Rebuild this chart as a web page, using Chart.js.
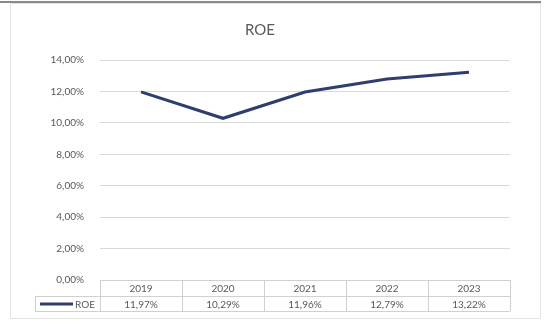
<!DOCTYPE html>
<html>
<head>
<meta charset="utf-8">
<script src="https://cdn.jsdelivr.net/npm/chart.js@4/dist/chart.umd.min.js"></script>
<style>
html,body{margin:0;padding:0;background:#fff;}
#wrap{width:546px;height:329px;position:relative;}
</style>
</head>
<body>
<div id="wrap"><canvas id="c" width="546" height="329"></canvas></div>
<script>
const categories = ['2019', '2020', '2021', '2022', '2023'];
const roeValues = [11.97, 10.29, 11.96, 12.79, 13.22];
const seriesName = 'ROE';
const yTicks = [0, 2, 4, 6, 8, 10, 12, 14];

const FONT = 'Lato, "Open Sans", sans-serif';
const TEXT = '#595959';
const GRID = '#d9d9d9';
const LINE = '#2f3e6c';

function fmt(v) { return v.toFixed(2).replace('.', ',') + '%'; }

const framePlugin = {
  id: 'frame',
  beforeDraw(chart) {
    const ctx = chart.ctx;
    ctx.save();
    ctx.fillStyle = '#fff';
    ctx.fillRect(0, 0, chart.width, chart.height);
    ctx.strokeStyle = '#e3e3e3';
    ctx.lineWidth = 1;
    ctx.strokeRect(10.5, 3.5, 530, 315);
    ctx.strokeStyle = '#8a8a8a';
    ctx.lineWidth = 2;
    ctx.beginPath(); ctx.moveTo(0, 2); ctx.lineTo(541, 2); ctx.stroke();
    ctx.restore();
  }
};

const tablePlugin = {
  id: 'dataTable',
  afterDraw(chart) {
    const ctx = chart.ctx;
    const x = chart.scales.x, area = chart.chartArea;
    const n = categories.length;
    const w = (area.right - area.left) / n;
    const top = area.bottom, mid = top + 16, bot = mid + 15;
    const legLeft = 35;
    ctx.save();
    ctx.strokeStyle = '#d0d0d0';
    ctx.lineWidth = 1;
    ctx.beginPath();
    ctx.moveTo(area.left, top + 0.5); ctx.lineTo(area.right, top + 0.5);
    ctx.moveTo(legLeft, mid + 0.5); ctx.lineTo(area.right, mid + 0.5);
    ctx.moveTo(legLeft, bot + 0.5); ctx.lineTo(area.right, bot + 0.5);
    ctx.moveTo(legLeft + 0.5, mid); ctx.lineTo(legLeft + 0.5, bot);
    for (let i = 0; i <= n; i++) {
      const px = Math.round(area.left + i * w) + 0.5;
      ctx.moveTo(px, top); ctx.lineTo(px, bot);
    }
    ctx.stroke();
    ctx.fillStyle = TEXT;
    ctx.font = '10px ' + FONT;
    ctx.textAlign = 'center';
    ctx.textBaseline = 'middle';
    categories.forEach((c, i) => {
      const cx = x.getPixelForValue(i);
      ctx.fillText(c, cx, (top + mid) / 2 + 1);
      ctx.fillText(fmt(roeValues[i]), cx, (mid + bot) / 2 + 1);
    });
    ctx.strokeStyle = LINE;
    ctx.lineWidth = 3;
    ctx.beginPath();
    ctx.moveTo(40, (mid + bot) / 2 + 0.5); ctx.lineTo(73, (mid + bot) / 2 + 0.5);
    ctx.stroke();
    ctx.textAlign = 'left';
    ctx.fillText(seriesName, 75, (mid + bot) / 2 + 1);
    ctx.restore();
  }
};

new Chart(document.getElementById('c'), {
  type: 'line',
  data: {
    labels: categories,
    datasets: [{
      label: seriesName,
      data: roeValues,
      borderColor: LINE,
      backgroundColor: LINE,
      borderWidth: 3,
      pointRadius: 0,
      tension: 0
    }]
  },
  options: {
    responsive: false,
    animation: false,
    layout: { padding: { left: 10, right: 36, top: 0, bottom: 49 } },
    plugins: {
      legend: { display: false },
      tooltip: { enabled: false },
      title: {
        display: true,
        text: 'ROE',
        color: TEXT,
        font: { family: FONT, size: 15, weight: 'normal' },
        padding: { top: 21, bottom: 21 }
      }
    },
    scales: {
      x: {
        display: false,
        offset: true
      },
      y: {
        min: 0,
        max: 14,
        afterFit(s) { s.width = 90; },
        afterBuildTicks(s) { s.ticks = yTicks.map(v => ({ value: v })); },
        border: { display: false },
        grid: {
          color: (c) => c.tick && c.tick.value === 0 ? 'rgba(0,0,0,0)' : GRID,
          drawTicks: false,
          lineWidth: 1
        },
        ticks: {
          padding: 16,
          color: TEXT,
          font: { family: FONT, size: 10 },
          callback: (v) => fmt(v)
        }
      }
    }
  },
  plugins: [framePlugin, tablePlugin]
});
</script>
</body>
</html>
